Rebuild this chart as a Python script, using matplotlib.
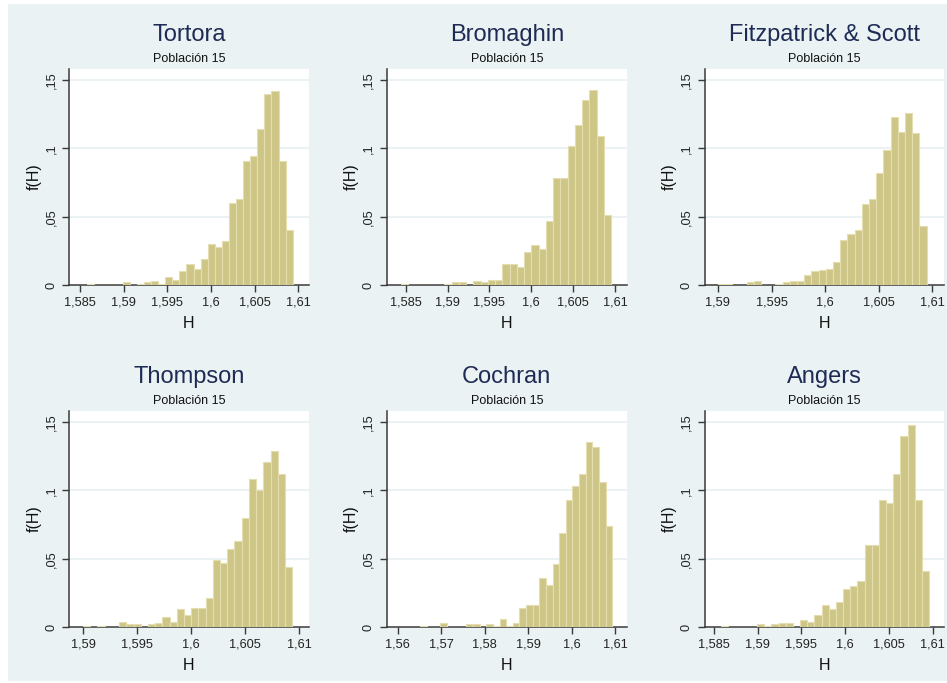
import numpy as np
import matplotlib
matplotlib.use("Agg")
import matplotlib.pyplot as plt
from matplotlib.patches import Rectangle

plt.rcParams['font.family'] = ['Liberation Sans', 'DejaVu Sans']

# ---------------- data ----------------
titles = ["Tortora", "Bromaghin", "Fitzpatrick & Scott", "Thompson", "Cochran", "Angers"]
subtitle = "Población 15"

# histogram bin start (H) and bin width for each method
bin_start = [1.58584, 1.58444, 1.59000, 1.59000, 1.56513, 1.58584]
bin_width = [0.000811, 0.000865, 0.000671, 0.000667, 0.001525, 0.000819]

frac_tortora = [0.001, 0, 0, 0, 0, 0.002, 0, 0.001, 0.002, 0.003, 0.001, 0.006, 0.004, 0.010,
                0.015, 0.012, 0.019, 0.030, 0.028, 0.032, 0.060, 0.063, 0.091, 0.094, 0.114,
                0.140, 0.142, 0.091, 0.040]
frac_bromaghin = [0.001, 0, 0, 0, 0, 0, 0.001, 0.002, 0.002, 0, 0.003, 0.002, 0.004, 0.004,
                  0.015, 0.015, 0.013, 0.024, 0.029, 0.026, 0.047, 0.0785, 0.0785, 0.102,
                  0.117, 0.135, 0.143, 0.109, 0.051]
frac_fitzpatrick = [0.001, 0.001, 0, 0, 0.002, 0.003, 0, 0, 0.001, 0.002, 0.003, 0.003, 0.007,
                    0.010, 0.011, 0.012, 0.017, 0.033, 0.037, 0.040, 0.059, 0.063, 0.082,
                    0.099, 0.123, 0.112, 0.126, 0.111, 0.043]
frac_thompson = [0.001, 0, 0.001, 0, 0, 0.004, 0.002, 0.002, 0, 0.002, 0.003, 0.007, 0.004,
                 0.013, 0.009, 0.014, 0.014, 0.021, 0.049, 0.047, 0.057, 0.063, 0.080, 0.108,
                 0.100, 0.121, 0.129, 0.112, 0.044]
frac_cochran = [0.001, 0, 0, 0.003, 0, 0, 0, 0.002, 0.002, 0, 0.002, 0.001, 0.006, 0.001,
                0.003, 0.014, 0.016, 0.016, 0.036, 0.031, 0.046, 0.069, 0.093, 0.103, 0.112,
                0.135, 0.132, 0.106, 0.074]
frac_angers = [0.001, 0, 0, 0, 0, 0.002, 0.001, 0.002, 0.003, 0.003, 0, 0.005, 0.004, 0.009,
               0.016, 0.013, 0.018, 0.028, 0.030, 0.034, 0.060, 0.060, 0.093, 0.091, 0.112,
               0.140, 0.148, 0.093, 0.041]
fractions = [frac_tortora, frac_bromaghin, frac_fitzpatrick, frac_thompson, frac_cochran, frac_angers]

xticks_a = [1.585, 1.59, 1.595, 1.6, 1.605, 1.61]
xlabels_a = ["1,585", "1,59", "1,595", "1,6", "1,605", "1,61"]
xticks_b = [1.59, 1.595, 1.6, 1.605, 1.61]
xlabels_b = ["1,59", "1,595", "1,6", "1,605", "1,61"]
xticks_c = [1.56, 1.57, 1.58, 1.59, 1.6, 1.61]
xlabels_c = ["1,56", "1,57", "1,58", "1,59", "1,6", "1,61"]
panel_xticks = [xticks_a, xticks_a, xticks_b, xticks_b, xticks_c, xticks_a]
panel_xlabels = [xlabels_a, xlabels_a, xlabels_b, xlabels_b, xlabels_c, xlabels_a]
panel_xlim = [(1.58374, 1.61123), (1.58273, 1.61143), (1.58875, 1.61109),
              (1.58870, 1.61090), (1.55747, 1.61276), (1.58393, 1.61130)]

yticks = [0, 0.05, 0.1, 0.15]
ylabels = ["0", ",05", ",1", ",15"]

# ---------------- style ----------------
W, H = 947, 683
bg = "#EAF2F3"
bar_fc = "#CEC687"
bar_ec = "#E4DEB0"
title_c = "#1E2B55"
axis_c = "#3A3A3A"

fig = plt.figure(figsize=(W / 100, H / 100), dpi=100)
fig.patch.set_facecolor("white")
fig.add_artist(Rectangle((8 / W, 2 / H), (W - 8) / W, (H - 6) / H,
                         transform=fig.transFigure, facecolor=bg, edgecolor="none", zorder=0))

col_px = [(69, 309), (386.7, 627), (704.5, 944)]
row_px = [(69, 285), (411, 627)]

for i in range(6):
    r, c = divmod(i, 3)
    x0, x1 = col_px[c]
    y0, y1 = row_px[r]
    ax = fig.add_axes([x0 / W, 1 - y1 / H, (x1 - x0) / W, (y1 - y0) / H])
    ax.set_facecolor("white")

    n = len(fractions[i])
    edges = bin_start[i] + bin_width[i] * np.arange(n)
    ax.bar(edges, fractions[i], width=bin_width[i], align="edge",
           color=bar_fc, edgecolor=bar_ec, linewidth=0.8, zorder=3)

    ax.set_xlim(*panel_xlim[i])
    ax.set_ylim(0, 0.158)

    for yv in yticks[1:]:
        ax.axhline(yv, color=bg, linewidth=1.4, zorder=1)

    ax.set_xticks(panel_xticks[i])
    ax.set_xticklabels(panel_xlabels[i], fontsize=9.2, color="#222222")
    ax.set_yticks(yticks)
    ax.set_yticklabels(ylabels, fontsize=9.2, color="#222222", rotation=90, va="center")
    ax.tick_params(axis="both", direction="out", length=5, width=1, color=axis_c, pad=3.5)
    for s in ["top", "right"]:
        ax.spines[s].set_visible(False)
    for s in ["left", "bottom"]:
        ax.spines[s].set_color(axis_c)
        ax.spines[s].set_linewidth(1.1)

    ax.annotate(titles[i], xy=(0.5, 1), xycoords="axes fraction",
                xytext=(0, 34), textcoords="offset pixels",
                ha="center", va="center", fontsize=17, color=title_c)
    ax.annotate(subtitle, xy=(0.5, 1), xycoords="axes fraction",
                xytext=(0, 9.5), textcoords="offset pixels",
                ha="center", va="center", fontsize=9, color="#111111")
    ax.annotate("H", xy=(0.5, 0), xycoords="axes fraction",
                xytext=(0, -39), textcoords="offset pixels",
                ha="center", va="center", fontsize=11.5, color="#111111")
    ax.annotate("f(H)", xy=(0, 0.5), xycoords="axes fraction",
                xytext=(-35, 0), textcoords="offset pixels",
                ha="center", va="center", rotation=90, fontsize=11.5, color="#111111")

fig.savefig("out.png", dpi=100, facecolor=fig.get_facecolor())
